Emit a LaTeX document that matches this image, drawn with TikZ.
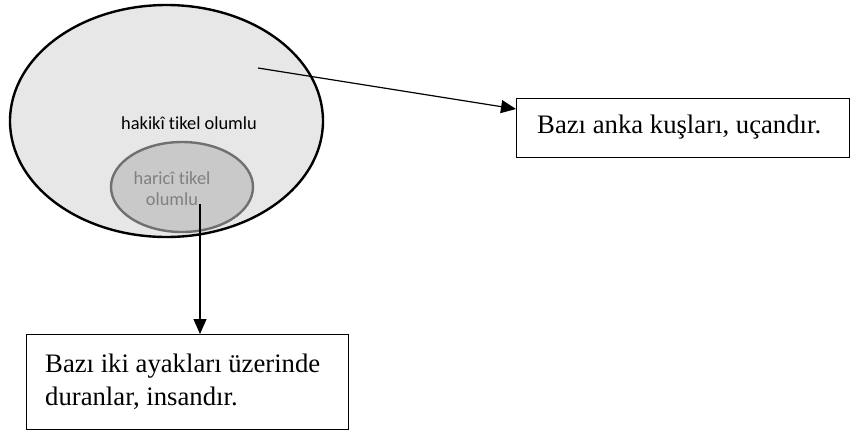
\documentclass[tikz,border=0pt]{standalone}
\usepackage{fontspec}
\setmainfont{Liberation Serif}
\newfontfamily\calib[Ligatures=NoCommon]{Carlito}
\usetikzlibrary{shapes.geometric,arrows.meta}
\definecolor{outerfill}{HTML}{E7E7E7}
\definecolor{innerfill}{HTML}{C9C9C9}
\definecolor{innerdraw}{HTML}{707070}
\definecolor{innertext}{HTML}{808080}
\tikzset{
  blob/.style={ellipse, inner sep=0pt, line width=2.4pt},
  boxnode/.style={draw, line width=1.3pt, inner sep=0pt, anchor=north west},
  serif/.style={font=\fontsize{26.7}{33}\selectfont, align=left, anchor=west, inner sep=0pt},
  sans/.style={font=\calib\fontsize{18.4}{21}\selectfont, align=center, inner sep=0pt},
  conn/.style={line width=1.2pt, -{Triangle[length=15pt,width=13pt]}}
}
\begin{document}
\begin{tikzpicture}[x=1pt,y=-1pt]
\useasboundingbox (0,0) rectangle (850,432);
% ellipses
\node[blob, draw=black, fill=outerfill, minimum width=313pt, minimum height=232pt] (outer) at (166.5,121) {};
\node[blob, draw=innerdraw, fill=innerfill, minimum width=142pt, minimum height=90pt] (inner) at (182,187) {};
\node[sans] (hakiki) at (189,123) {hakikî tikel olumlu};
\node[sans, text=innertext] (harici) at (172,188.5) {haricî tikel\\olumlu};
% boxes
\node[boxnode, minimum width=333pt, minimum height=59pt] (rbox) at (516,97.5) {};
\node[serif] (rtext) at (537,127) {Bazı anka kuşları, uçandır.};
\node[boxnode, minimum width=322pt, minimum height=95pt] (bbox) at (26,334) {};
\node[serif] (btext) at (45,381.5) {Bazı iki ayakları üzerinde\\duranlar, insandır.};
% connectors
\coordinate (s1) at (258,68);
\coordinate (s2) at (200,204);
\draw[conn] (s1) -- (rbox.west |- 0,109);
\draw[conn] (s2) -- (s2 |- bbox.north);
\end{tikzpicture}
\end{document}
